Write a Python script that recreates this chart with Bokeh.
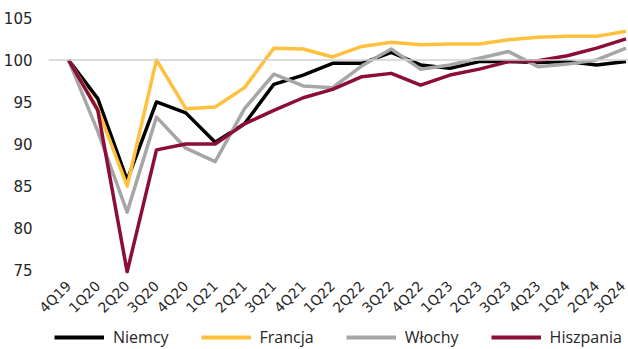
import math
from bokeh.plotting import figure
from bokeh.layouts import column
from bokeh.models import Legend, LegendItem, FixedTicker, Span, Range1d
from bokeh.embed import file_html
from bokeh.resources import INLINE

categories = ["4Q19", "1Q20", "2Q20", "3Q20", "4Q20", "1Q21", "2Q21", "3Q21", "4Q21", "1Q22",
              "2Q22", "3Q22", "4Q22", "1Q23", "2Q23", "3Q23", "4Q23", "1Q24", "2Q24", "3Q24"]
niemcy = [100, 95.4, 85.7, 95.0, 93.7, 90.2, 92.4, 97.1, 98.2, 99.6,
          99.6, 100.9, 99.4, 99.0, 99.8, 99.8, 99.7, 99.8, 99.4, 99.8]
francja = [100, 94.2, 85.0, 100.0, 94.2, 94.4, 96.7, 101.4, 101.3, 100.35,
           101.6, 102.1, 101.8, 101.9, 101.9, 102.4, 102.7, 102.8, 102.8, 103.4]
wlochy = [100, 91.5, 81.9, 93.2, 89.5, 87.9, 94.2, 98.3, 96.9, 96.7,
          99.3, 101.3, 98.9, 99.4, 100.2, 101.0, 99.2, 99.5, 100.0, 101.4]
hiszpania = [100, 94.0, 74.8, 89.3, 90.0, 90.0, 92.4, 94.0, 95.5, 96.5,
             98.0, 98.4, 97.0, 98.2, 98.9, 99.8, 99.9, 100.5, 101.4, 102.5]
y_ticks = [75, 80, 85, 90, 95, 100, 105]

series = [("Niemcy", niemcy, "#000000"),
          ("Francja", francja, "#FFC03D"),
          ("Włochy", wlochy, "#A6A6A6"),
          ("Hiszpania", hiszpania, "#8C0D3B")]

xs = list(range(len(categories)))

# main chart
p = figure(width=628, height=324, output_backend="svg", toolbar_location=None,
           x_range=Range1d(-0.68, 19.085), y_range=Range1d(74.6, 105.4),
           min_border_left=45, min_border_right=0, min_border_top=14, min_border_bottom=48)
p.outline_line_color = None
p.xgrid.visible = False
p.ygrid.visible = False

p.add_layout(Span(location=100, dimension="width", line_color="#D0D0D0", line_width=1.5))

for name, vals, col in series:
    p.line(xs, vals, line_color=col, line_width=3.5, line_join="round")

p.xaxis.ticker = FixedTicker(ticks=xs)
p.xaxis.major_label_overrides = {i: c for i, c in enumerate(categories)}
p.xaxis.major_label_orientation = math.pi / 4
p.yaxis.ticker = FixedTicker(ticks=y_ticks)
for ax in (p.xaxis, p.yaxis):
    ax.axis_line_color = None
    ax.major_tick_line_color = None
    ax.minor_tick_line_color = None
    ax.major_label_text_font = "DejaVu Sans"
    ax.major_label_text_color = "#262626"
p.yaxis.major_label_text_font_size = "15px"
p.xaxis.major_label_text_font_size = "14px"
p.yaxis.major_label_standoff = 10
p.xaxis.major_label_standoff = 4

# legend strip (its lines fall outside its ranges; only the legend shows)
lp = figure(width=628, height=25, output_backend="svg", toolbar_location=None,
            x_range=Range1d(-100, -99), y_range=Range1d(0, 1),
            x_axis_type=None, y_axis_type=None,
            min_border_left=22, min_border_right=0, min_border_top=0, min_border_bottom=0)
lp.outline_line_color = None
lp.xgrid.visible = False
lp.ygrid.visible = False
items = []
for name, vals, col in series:
    r = lp.line(xs, vals, line_color=col, line_width=4)
    items.append(LegendItem(label=name, renderers=[r]))

legend = Legend(items=items, orientation="horizontal", location="center",
                glyph_width=50, glyph_height=14, label_standoff=9, spacing=32,
                padding=0, margin=0, border_line_color=None, background_fill_alpha=0,
                label_text_font="Open Sans", label_text_font_size="16px",
                label_text_color="#262626", label_height=14)
lp.add_layout(legend, "center")

open("out.html", "w").write(file_html(column(p, lp, spacing=0), INLINE))
